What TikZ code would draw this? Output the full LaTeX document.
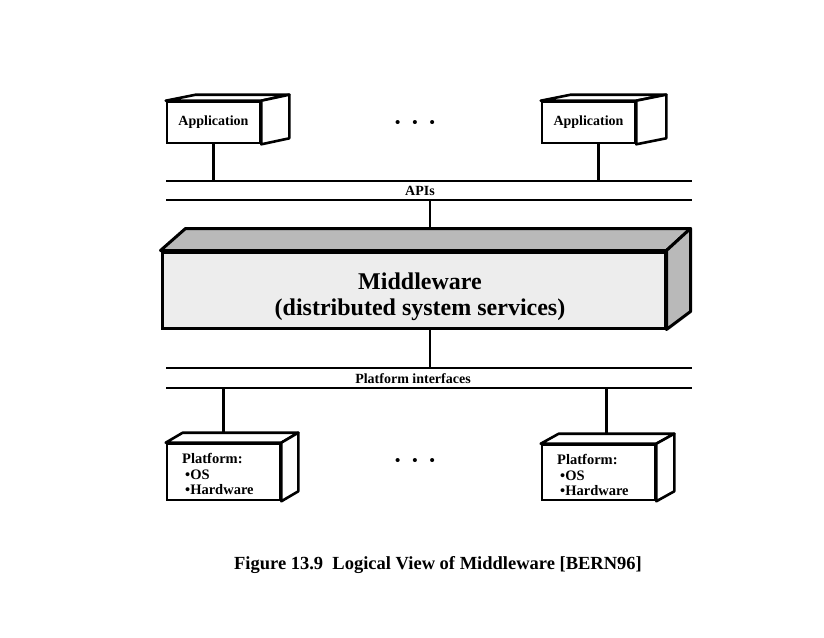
\documentclass[tikz,border=0pt]{standalone}
\usepackage{fontspec}
\setmainfont{Liberation Serif}
\usetikzlibrary{calc}
\begin{document}
\begin{tikzpicture}[x=1pt,y=-1pt,
  box/.style={draw, line width=2.6pt, fill=white, inner sep=0pt, font=\bfseries\fontsize{14}{16}\selectfont},
  face/.style={draw, line width=2.6pt, fill=white, line join=round},
  mwface/.style={draw, line width=3pt, fill=gray!55, line join=round},
  bus/.style={line width=2.4pt},
  link/.style={line width=2.4pt},
  lbl/.style={font=\bfseries\fontsize{14}{16}\selectfont, inner sep=0pt},
  dots/.style={font=\bfseries\fontsize{15}{17}\selectfont, inner sep=0pt}]
\useasboundingbox (0,0) rectangle (824,637);

% Application boxes
\node[box, minimum width=93pt, minimum height=41pt] (app1) at (213.5,122.5) {Application};
\draw[face] (app1.north west) -- ++(30,-6) -- ($(app1.north east)+(28,-6)$) -- (app1.north east) -- cycle;
\draw[face] (app1.north east) -- ++(28,-6) -- ($(app1.south east)+(28,-6)$) -- (app1.south east) -- cycle;

\node[box, minimum width=93pt, minimum height=41pt] (app2) at (588.5,122.5) {Application};
\draw[face] (app2.north west) -- ++(30,-6) -- ($(app2.north east)+(30,-6)$) -- (app2.north east) -- cycle;
\draw[face] (app2.north east) -- ++(30,-6) -- ($(app2.south east)+(30,-6)$) -- (app2.south east) -- cycle;

\node[dots] (dotsTop) at (415,124) {\textbullet\hspace{12pt}\textbullet\hspace{12pt}\textbullet};

% API bus
\coordinate (apiTL) at (166,181);
\coordinate (apiTR) at (692,181);
\coordinate (apiBL) at (166,200);
\coordinate (apiBR) at (692,200);
\draw[bus] (apiTL) -- (apiTR);
\draw[bus] (apiBL) -- (apiBR);
\node[lbl] (apis) at (420,191) {APIs};
\draw[link] (app1.south) -- (app1.south |- apiTL);
\draw[link] ($(app2.south)+(10,0)$) -- ($(app2.south |- apiTL)+(10,0)$);

% Middleware
\node[draw, line width=3pt, fill=gray!14, minimum width=503pt, minimum height=76pt, inner sep=0pt] (mw) at (413.5,290) {};
\draw[mwface] (mw.north west) -- ++(25,-22) -- ($(mw.north east)+(24,-22)$) -- (mw.north east) -- cycle;
\draw[mwface] (mw.north east) -- ++(24,-22) -- ($(mw.south east)+(24,-18)$) -- (mw.south east) -- cycle;
\node[font=\bfseries\fontsize{24}{26}\selectfont, align=center, inner sep=0pt] (mwtext) at (420,297) {Middleware\\(distributed system services)};
\coordinate (apiC) at (430,200);
\draw[link] (apiC) -- ($(apiC |- mw.north)+(0,-22)$);

% Platform bus
\coordinate (pfTL) at (166,368);
\coordinate (pfTR) at (692,368);
\coordinate (pfBL) at (166,388);
\coordinate (pfBR) at (692,388);
\draw[bus] (pfTL) -- (pfTR);
\draw[bus] (pfBL) -- (pfBR);
\node[lbl] (pfi) at (413,379) {Platform interfaces};
\coordinate (pfC) at (430,368);
\draw[link] (pfC |- mw.south) -- (pfC);

% Platform boxes
\node[box, minimum width=113pt, minimum height=56pt] (p1) at (223.5,472) {};
\draw[face] (p1.north west) -- ++(17,-10) -- ($(p1.north east)+(17,-10)$) -- (p1.north east) -- cycle;
\draw[face] (p1.north east) -- ++(17,-10) -- ($(p1.south east)+(17,-10)$) -- (p1.south east) -- cycle;
\node[lbl, font=\bfseries\fontsize{14.5}{15.5}\selectfont, align=left, anchor=west] (p1text) at (182,474) {Platform:\\\hspace*{3pt}\textbullet OS\\\hspace*{3pt}\textbullet Hardware};
\draw[link] (p1.north |- pfBL) -- ($(p1.north)+(0,-10)$);

\node[box, minimum width=113pt, minimum height=55pt] (p2) at (598.5,472.5) {};
\draw[face] (p2.north west) -- ++(18,-10) -- ($(p2.north east)+(18,-10)$) -- (p2.north east) -- cycle;
\draw[face] (p2.north east) -- ++(18,-10) -- ($(p2.south east)+(18,-10)$) -- (p2.south east) -- cycle;
\node[lbl, font=\bfseries\fontsize{14.5}{15.5}\selectfont, align=left, anchor=west] (p2text) at (557,475) {Platform:\\\hspace*{3pt}\textbullet OS\\\hspace*{3pt}\textbullet Hardware};
\draw[link] ($(p2.north |- pfBL)+(8,0)$) -- ($(p2.north)+(8,-10)$);

\node[dots] (dotsBot) at (415,462) {\textbullet\hspace{12pt}\textbullet\hspace{12pt}\textbullet};

% Caption
\node[font=\bfseries\fontsize{18.5}{21}\selectfont, inner sep=0pt] (caption) at (438,565) {Figure 13.9\hspace{0.25em} Logical View of Middleware [BERN96]};
\end{tikzpicture}
\end{document}
